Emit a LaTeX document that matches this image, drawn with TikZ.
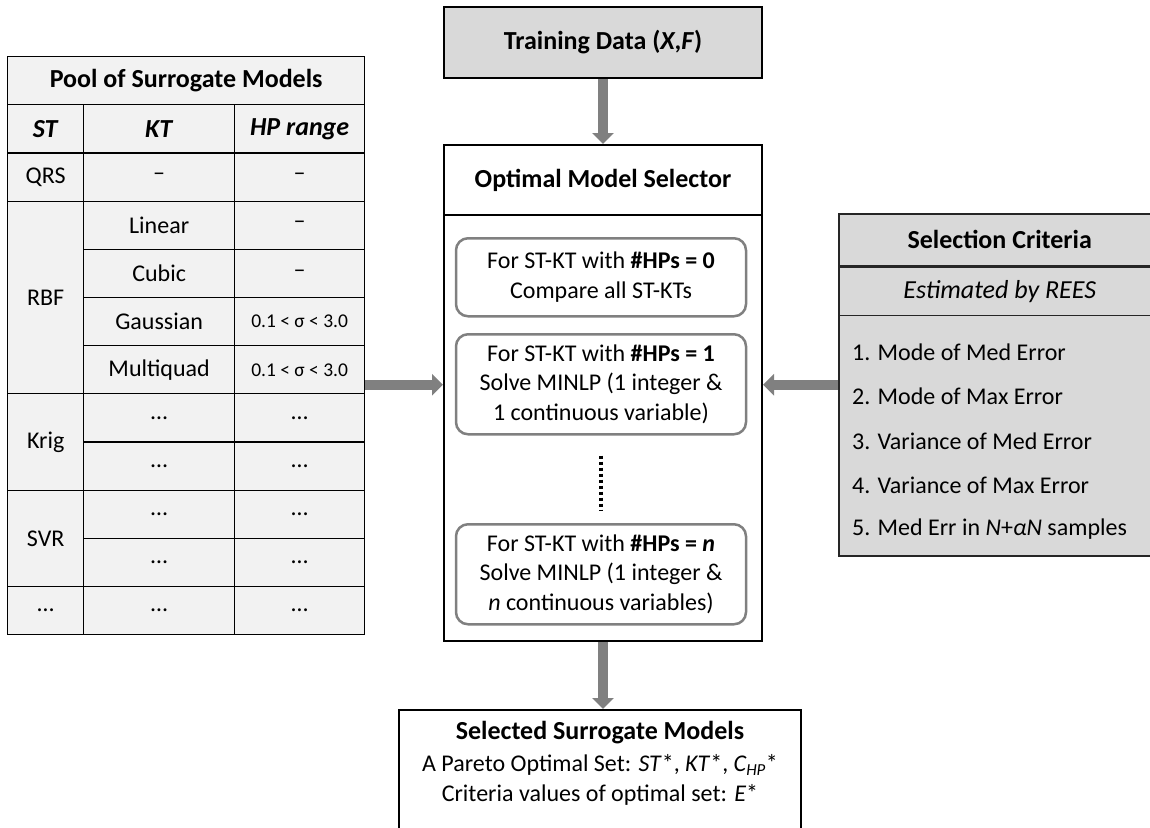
\documentclass[tikz,border=0pt]{standalone}
\usepackage{fontspec}
\setmainfont{Carlito}
\usetikzlibrary{arrows.meta}
\definecolor{cellgray}{HTML}{F2F2F2}
\definecolor{panelgray}{HTML}{D9D9D9}
\definecolor{flowgray}{HTML}{808080}
\newcommand{\headfont}{\fontsize{26}{30}\selectfont}
\newcommand{\rangefont}{\fontsize{19.5}{22}\selectfont}
\begin{document}
\begin{tikzpicture}[x=1pt, y=-1pt,
		txt/.style={font=\fontsize{24}{29.5}\selectfont},
		cell/.style={txt, draw=black, line width=1.3pt, fill=cellgray, minimum height=48.17pt, inner sep=0pt},
		box/.style={txt, draw=black, line width=2pt, fill=white, inner sep=0pt},
		panel/.style={txt, draw=black!85, line width=1.5pt, fill=panelgray, inner sep=0pt},
		solvebox/.style={txt, draw=flowgray, line width=2.5pt, rounded corners=12pt, minimum width=290pt, align=center, inner sep=0pt},
		flow/.style={draw=flowgray, line width=10pt, -{Triangle[width=21pt, length=11pt]}},
		dots/.style={line width=3.5pt, dash pattern=on 3pt off 3pt, shorten <=20pt, shorten >=12pt}]
	\useasboundingbox (0,0) rectangle (1150,827);
	\clip (0,0) rectangle (1150,827);
	\fill[white] (0,0) rectangle (1150,827);

	\node[cell, minimum width=357pt, anchor=north west] (pool) at (7,56) {\headfont\textbf{Pool of Surrogate Models}};
	\foreach \row/\st/\n in {1/{\headfont\textbf{\textit{ST}}}/1, 2/QRS/1, 3/RBF/4, 7/Krig/2, 9/SVR/2, 11/…/1}
		\node[cell, minimum width=76pt, minimum height={\n*48.17pt}, anchor=north west] (st-\row) at (7,{56+\row*48.17}) {\st};
	\foreach \row/\kt/\rng in {1/{\headfont\textbf{\textit{KT}}}/{\headfont\textbf{\textit{HP range}}}, 2/--/--, 3/Linear/--, 4/Cubic/--,
			5/Gaussian/{\rangefont 0.1 < σ < 3.0}, 6/Multiquad/{\rangefont 0.1 < σ < 3.0},
			7/…/…, 8/…/…, 9/…/…, 10/…/…, 11/…/…}
	{
		\node[cell, minimum width=151pt, anchor=north west] (kt-\row) at (83,{56+\row*48.17}) {\kt};
		\node[cell, minimum width=130pt, anchor=north west] (rng-\row) at (234,{56+\row*48.17}) {\rng};
	}

	\node[panel, draw=black, line width=2pt, minimum width=318pt, minimum height=71pt, anchor=north west] (train) at (443,6) {\headfont\textbf{Training Data (\textit{X},\textit{F})}};

	\node[box, minimum width=318pt, minimum height=496pt, anchor=north west] (sel) at (443,144) {};
	\node[box, minimum width=318pt, minimum height=70pt, anchor=north] (sel-title) at (sel.north) {\headfont\textbf{Optimal Model Selector}};
	\node[solvebox, minimum height=78pt, anchor=north] (solve-0) at (601,237) {For ST-KT with \textbf{\#HPs = 0}\\Compare all ST-KTs};
	\node[solvebox, minimum height=100pt, anchor=north] (solve-1) at (601,333) {For ST-KT with \textbf{\#HPs = 1}\\Solve MINLP (1 integer \&\\1 continuous variable)};
	\node[solvebox, minimum height=100pt, anchor=north] (solve-n) at (601,523) {For ST-KT with \textbf{\#HPs = \textit{n}}\\Solve MINLP (1 integer \&\\\textit{n} continuous variables)};
	\draw[dots] (solve-1.south) -- (solve-n.north);

	\node[panel, minimum width=322pt, minimum height=342pt, anchor=north west] (crit) at (838,213) {};
	\node[panel, minimum width=322pt, minimum height=52pt, anchor=north] (crit-title) at (crit.north) {\headfont\textbf{Selection Criteria}};
	\node[panel, minimum width=322pt, minimum height=48pt, anchor=north] (crit-sub) at (crit-title.south) {\headfont\textit{Estimated by REES}};
	\foreach \i/\item in {1/{1. Mode of Med Error}, 2/{2. Mode of Max Error}, 3/{3. Variance of Med Error},
			4/{4. Variance of Max Error}, 5/{5. Med Err in \textit{N}+\textit{αN} samples}}
		\node[txt, anchor=west, inner sep=0pt] (crit-\i) at (852,{308+\i*44.3}) {\item};

	\node[box, minimum width=402pt, minimum height=130pt, anchor=north west] (out) at (398,709) {};
	\node[txt, align=center, anchor=north, inner sep=0pt] (out-text) at ([yshift=-12pt]out.north)
		{{\headfont\textbf{Selected Surrogate Models}}\\[3pt]A Pareto Optimal Set: \textit{ST}*, \textit{KT}*, \textit{C\textsubscript{HP}}*\\Criteria values of optimal set: \textit{E}*};

	\draw[flow] (train) -- (sel-title);
	\draw[flow] (sel.south) -- (sel.south |- out.north);
	\draw[flow] (rng-6.east |- crit.west) -- (sel.west |- crit.west);
	\draw[flow] (crit.west) -- (sel.east |- crit.west);
\end{tikzpicture}
\end{document}
